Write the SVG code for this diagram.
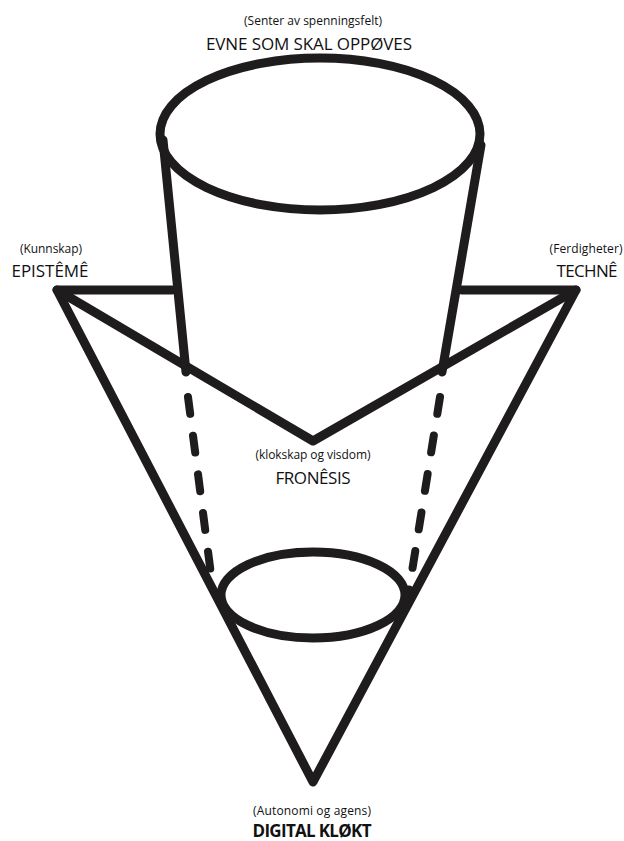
<svg xmlns="http://www.w3.org/2000/svg" width="624" height="841" viewBox="0 0 624 841">
<style>
.ln{fill:none;stroke:#1e1c1d;stroke-width:9;stroke-linecap:round;stroke-linejoin:round}
.dash{fill:none;stroke:#1e1c1d;stroke-width:8;stroke-linecap:round;stroke-dasharray:17 22}
.sm{font-family:"Open Sans","Liberation Sans",sans-serif;font-size:12px;fill:#111;text-anchor:middle}
.lg{font-family:"Open Sans","Liberation Sans",sans-serif;font-size:17px;fill:#111;text-anchor:middle}
.bd{font-family:"Open Sans","Liberation Sans",sans-serif;font-size:17px;font-weight:bold;fill:#111;text-anchor:middle}
</style>
<rect width="624" height="841" fill="#fff"/>
<g id="connectors">
<polyline class="ln" points="172,290 57,290 313,782 576,290 462,290"/>
<polyline class="ln" points="57,290 313,441 576,290"/>
<line class="ln" x1="163" y1="140" x2="186" y2="372"/>
<line class="ln" x1="481" y1="145" x2="442" y2="372"/>
<line class="dash" x1="188" y1="397" x2="213" y2="590"/>
<line class="dash" x1="440" y1="397" x2="409" y2="590"/>
</g>
<g id="top-ellipse">
<ellipse class="ln" cx="320" cy="134" rx="160" ry="76" fill="#fff"/>
</g>
<g id="bottom-ellipse">
<ellipse class="ln" cx="313" cy="595" rx="92" ry="43"/>
</g>
<g id="node-evne">
<text class="sm" x="313" y="25" textLength="138">(Senter av spenningsfelt)</text>
<text class="lg" x="309" y="50" textLength="206">EVNE SOM SKAL OPPØVES</text>
</g>
<g id="node-episteme">
<text class="sm" x="51" y="253" textLength="62">(Kunnskap)</text>
<text class="lg" x="50" y="277" textLength="77">EPISTÊMÊ</text>
</g>
<g id="node-techne">
<text class="sm" x="586" y="253" textLength="73">(Ferdigheter)</text>
<text class="lg" x="587" y="277" textLength="61">TECHNÊ</text>
</g>
<g id="node-fronesis">
<text class="sm" x="313" y="459" textLength="115">(klokskap og visdom)</text>
<text class="lg" x="313" y="484" textLength="75">FRONÊSIS</text>
</g>
<g id="node-digital">
<text class="sm" x="312" y="815" textLength="118">(Autonomi og agens)</text>
<text class="bd" x="312" y="837" textLength="119">DIGITAL KLØKT</text>
</g>
</svg>
